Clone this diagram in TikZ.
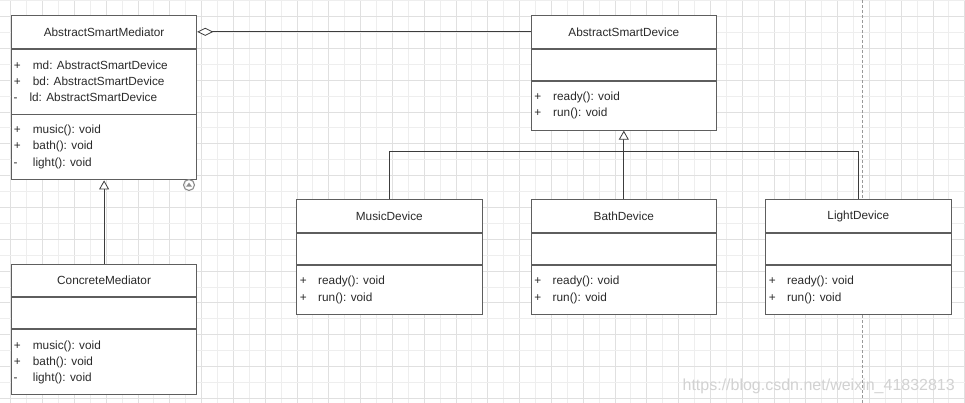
\documentclass[tikz,border=0pt]{standalone}
\usepackage{fontspec}
\setmainfont{Liberation Sans}
\usetikzlibrary{arrows.meta,calc}
\definecolor{gridlight}{HTML}{EEEEEE}
\definecolor{griddark}{HTML}{E0E0E0}
\definecolor{boxc}{HTML}{5E5E5E}
\definecolor{txtc}{HTML}{2A2A2A}
\definecolor{connc}{HTML}{3C3C3C}
\definecolor{wmark}{HTML}{D2D2D2}
\tikzset{
  uf/.style={font=\fontsize{11.8}{14}\selectfont},
  boxline/.style={draw=boxc, line width=0.9pt, fill=white},
  hdr/.style={boxline, uf, text=txtc, minimum width=185.3pt, minimum height=32.7pt, anchor=north west, inner sep=0pt},
  sec/.style={boxline, minimum width=185.3pt, anchor=north, inner sep=0pt},
  mem/.style={uf, text=txtc, anchor=base west, inner sep=0pt},
  vis/.style={uf, text=txtc, anchor=base, inner sep=0pt},
  conn/.style={draw=connc, line width=0.8pt},
  gen/.style={conn, -{Triangle[length=9pt, width=10pt, fill=white]}},
  agg/.style={conn, -{Diamond[length=16pt, width=8pt, fill=white]}},
}
\begin{document}
\begin{tikzpicture}[x=1pt, y=-1pt]
\useasboundingbox (0,0) rectangle (965,403);
\fill[white] (0,0) rectangle (965,403);
% grid
\foreach \k in {0,...,60} {
  \pgfmathsetmacro{\gx}{10.6+15.9*\k}
  \pgfmathtruncatemacro{\gpar}{mod(\k,2)}
  \ifnum\gpar=0 \draw[griddark, line width=0.6pt] (\gx,0) -- (\gx,403);
  \else \draw[gridlight, line width=0.6pt] (\gx,0) -- (\gx,403); \fi
}
\foreach \k in {0,...,25} {
  \pgfmathsetmacro{\gy}{0.6+15.9*\k}
  \pgfmathtruncatemacro{\gpar}{mod(\k,2)}
  \ifnum\gpar=1 \draw[griddark, line width=0.6pt] (0,\gy) -- (965,\gy);
  \else \draw[gridlight, line width=0.6pt] (0,\gy) -- (965,\gy); \fi
}
% page break line
\draw[black!40, line width=0.7pt, dash pattern=on 3pt off 2pt] (862.5,0) -- (862.5,403);

% AbstractSmartMediator
\node[hdr] (asm-h) at (11,15) {AbstractSmartMediator};
\node[sec, minimum height=65pt] (asm-a) at (asm-h.south) {};
\node[sec, minimum height=65pt] (asm-m) at (asm-a.south) {};
\node[vis] (asm-v1) at (17.3,69.3) {+};
\node[mem] (asm-t1) at (32.7,69.3) {md: AbstractSmartDevice};
\node[vis] (asm-v2) at (17.3,85.5) {+};
\node[mem] (asm-t2) at (32.7,85.5) {bd: AbstractSmartDevice};
\node[vis] (asm-v3) at (15.7,101.7) {-};
\node[mem] (asm-t3) at (29.3,101.7) {ld: AbstractSmartDevice};
\node[vis] (asm-v4) at (17.3,133.5) {+};
\node[mem] (asm-t4) at (32.7,133.5) {music(): void};
\node[vis] (asm-v5) at (17.3,149.9) {+};
\node[mem] (asm-t5) at (32.7,149.9) {bath(): void};
\node[vis] (asm-v6) at (15.7,166.3) {-};
\node[mem] (asm-t6) at (32.7,166.3) {light(): void};

% editor icon
\node[circle, draw=black!45, line width=1.1pt, minimum size=11pt, inner sep=0pt] (icon) at (189,185) {};
\fill[black!45] ($(icon.center)+(-3,1.6)$) -- ($(icon.center)+(3,1.6)$) -- ($(icon.center)+(0,-2.4)$) -- cycle;

% ConcreteMediator
\node[hdr, minimum height=32.6pt] (cm-h) at (11,263.7) {ConcreteMediator};
\node[sec, minimum height=31pt] (cm-a) at (cm-h.south) {};
\node[sec, minimum height=65pt] (cm-m) at (cm-a.south) {};
\node[vis] (cm-v1) at (17.3,349.2) {+};
\node[mem] (cm-t1) at (32.7,349.2) {music(): void};
\node[vis] (cm-v2) at (17.3,365.5) {+};
\node[mem] (cm-t2) at (32.7,365.5) {bath(): void};
\node[vis] (cm-v3) at (15.7,381.2) {-};
\node[mem] (cm-t3) at (32.7,381.2) {light(): void};

% AbstractSmartDevice
\node[hdr] (asd-h) at (530.7,15) {AbstractSmartDevice};
\node[sec, minimum height=31.6pt] (asd-a) at (asd-h.south) {};
\node[sec, minimum height=48.7pt] (asd-m) at (asd-a.south) {};
\node[vis] (asd-v1) at (537.7,100.5) {+};
\node[mem] (asd-t1) at (553,100.5) {ready(): void};
\node[vis] (asd-v2) at (537.7,116.2) {+};
\node[mem] (asd-t2) at (553,116.2) {run(): void};

% Devices
\foreach \id/\xx/\nm in {md/296.2/MusicDevice, bd/530.7/BathDevice, ld/765.2/LightDevice} {
  \node[hdr] (\id-h) at (\xx,199.3) {\nm};
  \node[sec, minimum height=31.3pt] (\id-a) at (\id-h.south) {};
  \node[sec, minimum height=49pt] (\id-m) at (\id-a.south) {};
  \node[vis] (\id-v1) at (\xx+7,284.5) {+};
  \node[mem] (\id-t1) at (\xx+21.8,284.5) {ready(): void};
  \node[vis] (\id-v2) at (\xx+7,301.2) {+};
  \node[mem] (\id-t2) at (\xx+21.8,301.2) {run(): void};
}

% connectors
\draw[agg] (asd-h.west) -- (asm-h.east);
\draw[gen] (cm-h.north) -- (asm-m.south);
\draw[gen] (bd-h.north) -- (asd-m.south);
\draw[conn] (md-h.north) -- ++(0,-47.6) -| (ld-h.north);

% watermark
\node[anchor=base east, inner sep=0pt, text=wmark, font=\fontsize{16}{18}\selectfont] (wm) at (955,390.7) {https://blog.csdn.net/weixin\_41832813};
\end{tikzpicture}
\end{document}
